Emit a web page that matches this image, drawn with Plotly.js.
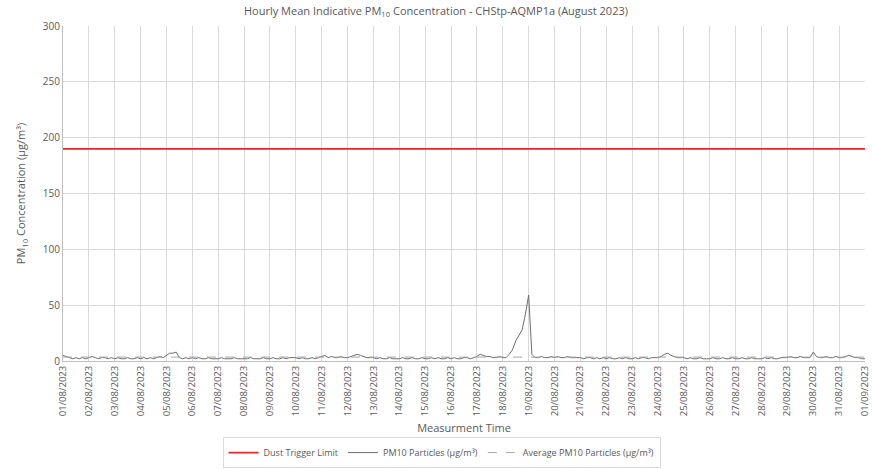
<!DOCTYPE html>
<html>
<head>
<meta charset="utf-8">
<script src="https://cdn.plot.ly/plotly-3.0.1.min.js"></script>
<style>html,body{margin:0;padding:0;background:#fff;}#chart{width:872px;height:469px;}</style>
</head>
<body>
<div id="chart"></div>
<script>
// 3-hourly readings (00,03,06,09,12,15,18,21) per day, 01/08 to 31/08, plus 01/09 00:00
const pmValues = [
  5,4,3,2,3,2,3,2,
  3,4,3,2,3,3,2,3,
  2,3,2,2,3,2,2,3,
  2,3,2,3,2,3,4,3,
  5,7,7,8,3,2,3,2,
  3,2,3,2,2,3,2,2,
  2,3,2,2,2,3,2,2,
  2,2,3,2,2,2,3,2,
  2,3,2,2,3,2,3,3,
  3,2,3,2,2,3,2,3,
  4,5,3,4,3,3,4,3,
  3,4,5,6,5,4,3,3,
  3,2,3,2,2,3,2,2,
  2,3,2,2,3,2,2,3,
  2,2,3,2,3,2,2,3,
  2,3,2,2,3,3,2,3,
  4,6,5,4,4,3,3,4,
  3,3,6,10,18,23,28,42,
  59,6,3,3,4,3,3,4,
  3,4,3,3,4,3,3,3,
  3,2,3,3,2,3,2,3,
  2,3,2,2,3,2,3,2,
  2,3,2,3,3,2,3,3,
  3,4,6,7,5,4,3,3,
  3,2,3,2,2,3,2,2,
  2,3,2,2,3,2,2,3,
  2,2,3,2,2,3,2,2,
  2,3,2,3,2,2,3,3,
  3,4,3,3,4,3,3,3,
  8,4,3,3,4,3,3,4,
  3,3,4,5,4,3,3,2,
  2
];
const triggerLimit = 190;
const averagePM10 = 3.5;
const startDate = "2023-08-01";
const endDate = "2023-09-01";
const tickLabels = ["01/08/2023","02/08/2023","03/08/2023","04/08/2023","05/08/2023","06/08/2023","07/08/2023","08/08/2023","09/08/2023","10/08/2023","11/08/2023","12/08/2023","13/08/2023","14/08/2023","15/08/2023","16/08/2023","17/08/2023","18/08/2023","19/08/2023","20/08/2023","21/08/2023","22/08/2023","23/08/2023","24/08/2023","25/08/2023","26/08/2023","27/08/2023","28/08/2023","29/08/2023","30/08/2023","31/08/2023","01/09/2023"];

// time stamps for the 3-hourly readings
const pad = n => String(n).padStart(2,"0");
const times = pmValues.map((v,i) => {
  const d = new Date(Date.UTC(2023,7,1) + i*3*3600*1000);
  return d.getUTCFullYear()+"-"+pad(d.getUTCMonth()+1)+"-"+pad(d.getUTCDate())+" "+pad(d.getUTCHours())+":00";
});
const tickVals = tickLabels.map(t => { const p = t.split("/"); return p[2]+"-"+p[1]+"-"+p[0]; });

const font = "Open Sans, Noto Sans, sans-serif";
const grey = "#595959";

const traces = [
  {x:[startDate,endDate], y:[triggerLimit,triggerLimit], type:"scatter", mode:"lines",
   name:"Dust Trigger Limit", line:{color:"#e02828", width:1.6}},
  {x:times, y:pmValues, type:"scatter", mode:"lines",
   name:"PM10 Particles (µg/m³)", line:{color:"#6e6e6e", width:1}},
  {x:[startDate,endDate], y:[averagePM10,averagePM10], type:"scatter", mode:"lines",
   name:"Average PM10 Particles (µg/m³)", line:{color:"#a6a6a6", width:1, dash:"dash"}}
];

const layout = {
  width:872, height:469,
  margin:{l:63, r:7, t:26, b:108},
  paper_bgcolor:"#fff", plot_bgcolor:"#fff",
  font:{family:font, color:grey, size:10},
  title:{text:"Hourly Mean Indicative PM<sub>10</sub> Concentration - CHStp-AQMP1a (August 2023)",
         x:0.5, xanchor:"center", y:0.985, yanchor:"top", font:{size:11, color:grey}},
  xaxis:{type:"date", range:[startDate,"2023-09-01 00:02"], tickmode:"array", tickvals:tickVals, ticktext:tickLabels,
         tickangle:-90, tickfont:{size:9.5, color:grey}, ticklabeloverflow:"allow", showgrid:true, gridcolor:"#d9d9d9", gridwidth:1,
         showline:true, linecolor:"#bfbfbf", linewidth:1, zeroline:false, ticks:"", automargin:false,
         title:{text:"Measurment Time", font:{size:11, color:grey}, standoff:9}},
  yaxis:{range:[0,300], dtick:50, tickfont:{size:10, color:grey}, showgrid:true, gridcolor:"#d9d9d9",
         showline:true, linecolor:"#bfbfbf", linewidth:1, zeroline:false, ticks:"", ticklen:0, automargin:false,
         title:{text:"PM<sub>10</sub> Concentration (µg/m³)", font:{size:11, color:grey}, standoff:14}},
  showlegend:true,
  legend:{orientation:"h", x:0.472, xanchor:"center", yref:"container", y:0.068, yanchor:"top",
          bordercolor:"#d9d9d9", borderwidth:1, font:{size:9, color:grey}, itemwidth:30,
          traceorder:"normal"}
};

Plotly.newPlot("chart", traces, layout, {displayModeBar:false, staticPlot:true});
</script>
</body>
</html>
